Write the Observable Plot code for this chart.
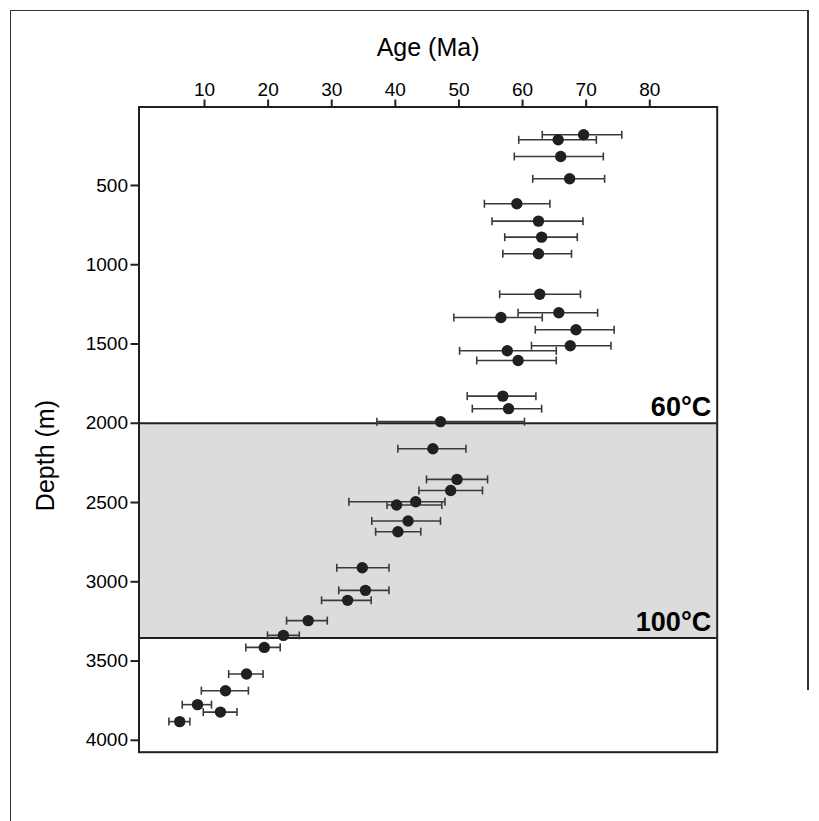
<!DOCTYPE html>
<html>
<head>
<meta charset="utf-8">
<script src="https://cdn.jsdelivr.net/npm/d3@7"></script>
<script src="https://cdn.jsdelivr.net/npm/@observablehq/plot@0.6"></script>
<style>
  html, body { margin: 0; padding: 0; background: #fff; }
  #wrap { position: relative; width: 819px; height: 821px; overflow: hidden; }
  #border { position: absolute; left: 10px; top: 10px; width: 797px; height: 830px;
            border-left: 1.5px solid #333; border-top: 1.5px solid #333; box-sizing: border-box; }
  #rborder { position: absolute; left: 807px; top: 10px; width: 1.5px; height: 680px; background: #333; }
  g[aria-label^="x-axis"] line, g[aria-label^="y-axis"] line,
  g[aria-label^="x-axis"] path, g[aria-label^="y-axis"] path { stroke-width: 2px; stroke: #231f20; }
</style>
</head>
<body>
<div id="wrap"><div id="border"></div><div id="rborder"></div><div id="chart"></div></div>
<script>
// Age (Ma) of each sample, and its error range
const ages    = [69.6, 65.6, 66.0, 67.4, 59.1, 62.5, 63.0, 62.5, 62.7, 65.7, 56.6, 68.4, 67.5, 57.6, 59.3, 56.9, 57.8, 47.1, 45.9, 49.7, 48.7, 43.2, 40.2, 42.0, 40.4, 34.8, 35.3, 32.5, 26.3, 22.4, 19.4, 16.6, 13.3, 8.9, 12.5, 6.1];
const depths  = [180, 212, 317, 458, 615, 725, 826, 931, 1186, 1303, 1333, 1410, 1511, 1543, 1604, 1829, 1908, 1990, 2161, 2354, 2424, 2495, 2516, 2617, 2684, 2911, 3054, 3117, 3245, 3338, 3414, 3582, 3687, 3775, 3822, 3882];
const ageLow  = [63.1, 59.4, 58.7, 61.6, 54.0, 55.2, 57.2, 56.9, 56.4, 59.3, 49.2, 62.0, 61.4, 50.1, 52.8, 51.3, 52.1, 37.1, 40.4, 44.9, 43.7, 32.7, 38.7, 36.3, 36.9, 30.8, 31.1, 28.4, 22.9, 19.9, 16.5, 13.8, 9.5, 6.5, 9.8, 4.4];
const ageHigh = [75.6, 71.6, 72.7, 72.9, 64.3, 69.5, 68.6, 67.7, 69.1, 71.8, 63.1, 74.4, 73.9, 65.3, 65.3, 62.1, 63.0, 60.3, 51.1, 54.5, 53.7, 47.8, 47.3, 47.1, 44.0, 39.0, 39.0, 36.2, 29.3, 24.9, 21.9, 19.2, 16.9, 11.1, 15.1, 7.7];

const xTicks = [10, 20, 30, 40, 50, 60, 70, 80];
const yTicks = [500, 1000, 1500, 2000, 2500, 3000, 3500, 4000];
const xDomain = [-0.3, 90.6];
const yDomain = [5, 4075];

// temperature isotherms (depth, label)
const isoDepths = [2000, 3355];
const isoLabels = ["60°C", "100°C"];

const samples = ages.map((a, i) => ({age: a, depth: depths[i], lo: ageLow[i], hi: ageHigh[i]}));
const caps = samples.flatMap(d => [{age: d.lo, depth: d.depth}, {age: d.hi, depth: d.depth}]);
const isos = isoDepths.map((d, i) => ({depth: d, label: isoLabels[i]}));

const vbar = {
  draw(context, size) {
    const r = Math.sqrt(size / Math.PI);
    context.moveTo(0, -r);
    context.lineTo(0, r);
  }
};

const chart = Plot.plot({
  width: 819,
  height: 821,
  marginLeft: 138.5,
  marginRight: 102.3,
  marginTop: 106.5,
  marginBottom: 69.3,
  style: {fontFamily: "'Liberation Sans', Arial, sans-serif", fontSize: "19px", color: "#000", background: "transparent"},
  x: {domain: xDomain, axis: "top", ticks: xTicks, tickSize: 8, tickPadding: 3, label: null, tickFormat: d3.format("d")},
  y: {domain: yDomain, reverse: true, axis: "left", ticks: yTicks, tickSize: 8, tickPadding: 3, label: null, tickFormat: d3.format("d")},
  marks: [
    Plot.rect([isos], {x1: () => xDomain[0], x2: () => xDomain[1], y1: d => d[0].depth, y2: d => d[1].depth, fill: "#dcdcdc"}),
    Plot.ruleY(isos, {y: "depth", stroke: "#231f20", strokeWidth: 2}),
    Plot.link(samples, {x1: "lo", x2: "hi", y1: "depth", y2: "depth", stroke: "#3a3a3a", strokeWidth: 1.6}),
    Plot.dot(caps, {x: "age", y: "depth", r: 4, symbol: vbar, stroke: "#3a3a3a", strokeWidth: 1.6, fill: "none"}),
    Plot.dot(samples, {x: "age", y: "depth", r: 5.7, fill: "#231f20", stroke: "none"}),
    Plot.text(isos, {x: () => xDomain[1], y: "depth", text: "label", textAnchor: "end", lineAnchor: "middle", dx: -6, dy: -15.5, fontSize: 27, fontWeight: "bold", fill: "#000"}),
    Plot.text(["Age (Ma)"], {frameAnchor: "top", text: d => d, textAnchor: "middle", lineAnchor: "middle", dy: -59.5, fontSize: 25, fill: "#000"}),
    Plot.text(["Depth (m)"], {frameAnchor: "left", text: d => d, rotate: -90, textAnchor: "middle", lineAnchor: "middle", dx: -93.5, dy: 26, fontSize: 25, fill: "#000"}),
    Plot.frame({stroke: "#231f20", strokeWidth: 2})
  ]
});
document.getElementById("chart").appendChild(chart);
</script>
</body>
</html>
